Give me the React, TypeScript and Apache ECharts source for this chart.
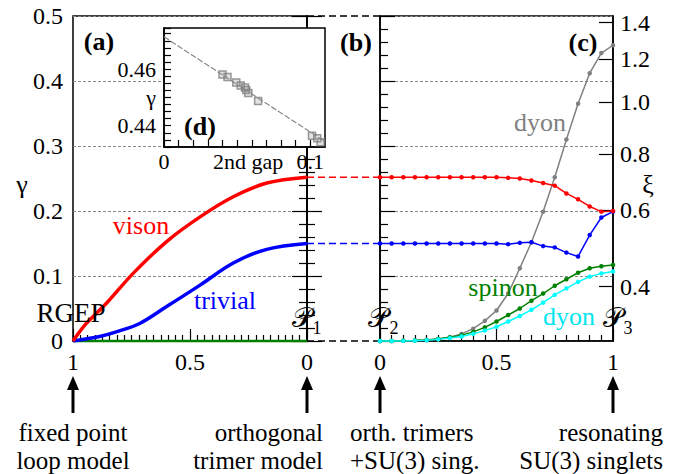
import React, { useEffect, useRef } from 'react';
import * as echarts from 'echarts';

// ---------- data ----------
// panel (a): parameter runs 1 -> 0 (left to right)
const visonT = [1, 0.943, 0.857, 0.743, 0.6, 0.457, 0.315, 0.172, 0];
const visonGamma = [0, 0.027, 0.058, 0.104, 0.153, 0.191, 0.222, 0.243, 0.252];
const trivialT = [1, 0.886, 0.815, 0.715, 0.6, 0.457, 0.315, 0.172, 0];
const trivialGamma = [0, 0.007, 0.014, 0.027, 0.053, 0.086, 0.12, 0.141, 0.15];
const spinonAT = [1, 0];
const spinonAGamma = [0, 0];

// panel (c): parameter 0 -> 1
const paramC = [0, 0.05, 0.1, 0.15, 0.2, 0.25, 0.3, 0.35, 0.4, 0.45, 0.5, 0.55, 0.6, 0.65, 0.7, 0.75, 0.8, 0.85, 0.9, 0.95, 1];
const visonC = [0.252, 0.252, 0.252, 0.252, 0.252, 0.252, 0.252, 0.252, 0.252, 0.252, 0.252, 0.251, 0.25, 0.247, 0.243, 0.239, 0.227, 0.218, 0.207, 0.199, 0.2];
const trivialC = [0.15, 0.15, 0.15, 0.15, 0.15, 0.15, 0.15, 0.15, 0.15, 0.15, 0.15, 0.149, 0.151, 0.152, 0.146, 0.144, 0.136, 0.13, 0.163, 0.19, 0.199];
const spinonC = [0, 0.0001, 0.0003, 0.0008, 0.0015, 0.003, 0.0056, 0.009, 0.014, 0.021, 0.03, 0.04, 0.05, 0.062, 0.073, 0.085, 0.095, 0.105, 0.112, 0.115, 0.117];
const dyonCyanC = [0, 0.0001, 0.0002, 0.0005, 0.0012, 0.0025, 0.0045, 0.007, 0.011, 0.016, 0.022, 0.03, 0.0385, 0.048, 0.059, 0.071, 0.081, 0.091, 0.099, 0.104, 0.107];
const dyonGrayC = [0, 0, 0.0003, 0.0008, 0.0015, 0.003, 0.006, 0.011, 0.019, 0.031, 0.047, 0.073, 0.112, 0.152, 0.199, 0.252, 0.31, 0.365, 0.412, 0.443, 0.455];

// right-hand xi axis: tick labels and their position on the gamma scale
const xiTickLabels = ['0.4', '0.6', '0.8', '1.0', '1.2', '1.4'];
const xiTickGamma = [0.0835, 0.2015, 0.2877, 0.368, 0.4338, 0.4897];

// inset (d)
const insetGap = [0.04, 0.0434, 0.0494, 0.0524, 0.0553, 0.0562, 0.0576, 0.0643, 0.1011, 0.1047, 0.107];
const insetGamma = [0.4581, 0.4572, 0.4553, 0.4542, 0.4535, 0.4526, 0.4516, 0.4487, 0.4365, 0.4356, 0.4342];
const fitGap = [0, 0.11];
const fitGamma = [0.4714, 0.4344];
const insetLabelValues = [0.44, 0.46];
const insetGapLabels = [0, 0.1];

const zip = (xs: number[], ys: number[]) => xs.map((x, i) => [x, ys[i]]);

const FONT = 'Liberation Serif';

export default function App() {
  const ref = useRef<HTMLDivElement>(null);
  useEffect(() => {
    if (!ref.current) return;
    const chart = echarts.init(ref.current, undefined, { renderer: 'svg' });

    const tickStyle = { color: '#000', width: 1.2 };
    const gridLine = { show: true, lineStyle: { color: '#888', width: 1, type: [3, 2] as any } };
    const labelBase = { color: '#000', fontFamily: FONT, fontSize: 24 };

    const dashed = (name: string, y: number, color: string) => ({
      name, type: 'line', xAxisIndex: 2, yAxisIndex: 4, clip: false,
      data: [[0, y], [1, y]], showSymbol: false, silent: true,
      lineStyle: { color, width: 1.5, type: [7, 4] as any },
    });

    const cSeries = (name: string, ys: number[], color: string) => ({
      name, type: 'line', xAxisIndex: 1, yAxisIndex: 2, clip: false,
      data: zip(paramC, ys), symbol: 'circle', symbolSize: 4.5, showSymbol: true,
      itemStyle: { color }, lineStyle: { color, width: 1.5 },
    });

    const txt = (text: string, x: number, y: number, size: number, color = '#000', opts: any = {}) => ({
      type: 'text', x, y, z: 100, silent: true,
      style: {
        text, fill: color,
        fontFamily: FONT, fontSize: size, fontWeight: opts.bold ? 'bold' : 'normal',
        align: opts.align || 'center', verticalAlign: opts.va || 'middle',
        textAlign: opts.align || 'center', textVerticalAlign: opts.va || 'middle',
        lineHeight: opts.lh,
      },
    });

    const arrow = (x: number) => [
      { type: 'line', z: 100, silent: true, shape: { x1: x, y1: 413, x2: x, y2: 386 }, style: { stroke: '#000', lineWidth: 3 } },
      { type: 'polygon', z: 100, silent: true, shape: { points: [[x - 6, 390], [x + 6, 390], [x, 376]] }, style: { fill: '#000' } },
    ];

    const option: any = {
      animation: false,
      backgroundColor: '#fff',
      textStyle: { fontFamily: FONT },
      grid: [
        { left: 73, top: 16, width: 234, height: 325, show: true, borderColor: '#000', borderWidth: 1.5, backgroundColor: 'transparent' },
        { left: 307, top: 16, width: 73, height: 325 },
        { left: 380, top: 16, width: 233, height: 325, show: true, borderColor: '#000', borderWidth: 1.5, backgroundColor: 'transparent' },
        { left: 164, top: 28, width: 161, height: 119, show: true, borderColor: '#000', borderWidth: 1.5, backgroundColor: '#fff', z: 10 },
      ],
      xAxis: [
        {
          gridIndex: 0, type: 'value', min: 0, max: 1, interval: 0.5, inverse: true,
          axisLine: { show: true, lineStyle: { color: '#000', width: 1.5 } },
          axisTick: { show: true, inside: true, length: 12, lineStyle: tickStyle },
          minorTick: { show: true, splitNumber: 16, length: 6, lineStyle: tickStyle },
          axisLabel: { ...labelBase, margin: 9 },
          splitLine: { show: false },
        },
        {
          gridIndex: 2, type: 'value', min: 0, max: 1, interval: 0.5,
          axisLine: { show: true, lineStyle: { color: '#000', width: 1.5 } },
          axisTick: { show: true, inside: true, length: 12, lineStyle: tickStyle },
          minorTick: { show: true, splitNumber: 10, length: 6, lineStyle: tickStyle },
          axisLabel: { ...labelBase, margin: 9 },
          splitLine: { show: false },
        },
        { gridIndex: 1, type: 'value', min: 0, max: 1, show: false },
        {
          gridIndex: 3, type: 'value', min: 0, max: 0.11, interval: 0.01, z: 11,
          axisLine: { show: true, lineStyle: { color: '#000', width: 1.5 } },
          axisTick: { show: true, inside: true, length: 7, lineStyle: tickStyle },
          axisLabel: {
            ...labelBase, fontSize: 22, margin: 3, showMaxLabel: false,
            formatter: (v: number) => {
              const hit = insetGapLabels.find((g) => Math.abs(g - v) < 1e-6);
              return hit === undefined ? '' : String(hit);
            },
          },
          splitLine: { show: false },
        },
      ],
      yAxis: [
        {
          gridIndex: 0, type: 'value', min: 0, max: 0.5, interval: 0.1, position: 'left',
          axisLine: { show: true, lineStyle: { color: '#000', width: 1.5 } },
          axisTick: { show: true, inside: true, length: 15, lineStyle: tickStyle },
          minorTick: { show: true, splitNumber: 5, length: 8, lineStyle: tickStyle },
          axisLabel: { ...labelBase, margin: 10 },
          splitLine: gridLine,
        },
        {
          gridIndex: 0, type: 'value', min: 0, max: 0.5, interval: 0.1, position: 'right',
          axisLine: { show: true, lineStyle: { color: '#000', width: 1.5 } },
          axisTick: { show: true, inside: true, length: 15, lineStyle: tickStyle },
          minorTick: { show: true, splitNumber: 5, length: 8, lineStyle: tickStyle },
          axisLabel: { show: false },
          splitLine: { show: false },
        },
        {
          gridIndex: 2, type: 'value', min: 0, max: 0.5, interval: 0.1, position: 'left',
          axisLine: { show: true, lineStyle: { color: '#000', width: 1.5 } },
          axisTick: { show: true, inside: true, length: 15, lineStyle: tickStyle },
          minorTick: { show: true, splitNumber: 5, length: 8, lineStyle: tickStyle },
          axisLabel: { show: false },
          splitLine: gridLine,
        },
        {
          gridIndex: 2, type: 'value', min: 0, max: 0.5, position: 'right',
          axisLine: { show: true, lineStyle: { color: '#000', width: 1.5 } },
          axisTick: { show: true, inside: true, length: 14, lineStyle: tickStyle, customValues: xiTickGamma },
          minorTick: { show: false },
          axisLabel: {
            ...labelBase, margin: 7, customValues: xiTickGamma,
            formatter: (v: number) => {
              const i = xiTickGamma.findIndex((g) => Math.abs(g - v) < 1e-6);
              return i < 0 ? '' : xiTickLabels[i];
            },
          },
          splitLine: { show: false },
        },
        { gridIndex: 1, type: 'value', min: 0, max: 0.5, show: false },
        {
          gridIndex: 3, type: 'value', min: 0.4325, max: 0.4745, interval: 0.0025, z: 11,
          axisLine: { show: true, lineStyle: { color: '#000', width: 1.5 } },
          axisTick: { show: true, inside: true, length: 7, lineStyle: tickStyle },
          axisLabel: {
            ...labelBase, fontSize: 22, margin: 8,
            formatter: (v: number) => {
              const hit = insetLabelValues.find((g) => Math.abs(g - v) < 1e-6);
              return hit === undefined ? '' : hit.toFixed(2);
            },
          },
          splitLine: { show: false },
        },
      ],
      series: [
        // panel (a)
        { name: 'spinon a', type: 'line', xAxisIndex: 0, yAxisIndex: 0, clip: false, data: zip(spinonAT, spinonAGamma), showSymbol: false, lineStyle: { color: '#008000', width: 2.5 } },
        { name: 'trivial a', type: 'line', xAxisIndex: 0, yAxisIndex: 0, data: zip(trivialT, trivialGamma), showSymbol: false, smooth: 0.35, lineStyle: { color: '#0000ff', width: 3.5 } },
        { name: 'vison a', type: 'line', xAxisIndex: 0, yAxisIndex: 0, data: zip(visonT, visonGamma), showSymbol: false, smooth: 0.35, lineStyle: { color: '#ff0000', width: 3.5 } },
        // panel (b) connectors
        dashed('b top', 0.5, '#000'),
        dashed('b bottom', 0, '#000'),
        dashed('b vison', visonGamma[visonGamma.length - 1], '#ff0000'),
        dashed('b trivial', trivialGamma[trivialGamma.length - 1], '#0000ff'),
        // panel (c)
        cSeries('dyon gray', dyonGrayC, '#808080'),
        cSeries('spinon', spinonC, '#008000'),
        cSeries('dyon cyan', dyonCyanC, '#00ffff'),
        cSeries('trivial', trivialC, '#0000ff'),
        cSeries('vison', visonC, '#ff0000'),
        // inset (d)
        { name: 'fit', type: 'line', xAxisIndex: 3, yAxisIndex: 5, z: 12, data: zip(fitGap, fitGamma), showSymbol: false, lineStyle: { color: '#888', width: 1.2, type: [6, 2] } },
        {
          name: 'points', type: 'scatter', xAxisIndex: 3, yAxisIndex: 5, z: 13, clip: false,
          data: zip(insetGap, insetGamma), symbol: 'rect', symbolSize: 7,
          itemStyle: { color: 'rgba(150,150,150,0.35)', borderColor: '#808080', borderWidth: 1.5 },
        },
      ],
      graphic: [
        txt('(a)', 99, 41, 26, '#000', { bold: true }),
        txt('(b)', 356, 42, 26, '#000', { bold: true }),
        txt('(c)', 583, 42, 26, '#000', { bold: true }),
        txt('(d)', 200, 126, 26, '#000', { bold: true }),
        txt('γ', 22, 184, 26),
        txt('ξ', 648, 184, 26),
        txt('γ', 151, 97, 22),
        txt('2nd gap', 248, 161, 22),
        txt('vison', 141, 225, 26, '#ff0000'),
        txt('trivial', 225, 300, 26, '#0000ff'),
        txt('dyon', 540, 122, 26, '#808080'),
        txt('spinon', 503, 287, 26, '#008000'),
        txt('dyon', 569, 316, 26, '#00e5ee'),
        txt('RGEP', 71, 313, 27),
        txt('𝒫', 302, 317, 28),
        txt('1', 317, 328, 18),
        txt('𝒫', 378, 317, 28),
        txt('2', 394, 328, 18),
        txt('𝒫', 613, 317, 28),
        txt('3', 628, 328, 18),
        ...arrow(73), ...arrow(307), ...arrow(380), ...arrow(613),
        txt('fixed point\nloop model', 73, 446, 25, '#000', { lh: 28 }),
        txt('orthogonal\ntrimer model', 323, 446, 25, '#000', { align: 'right', lh: 28 }),
        txt('orth. trimers\n+SU(3) sing.', 350, 446, 25, '#000', { align: 'left', lh: 28 }),
        txt('resonating\nSU(3) singlets', 663, 446, 25, '#000', { align: 'right', lh: 28 }),
      ],
    };
    chart.setOption(option);
    return () => chart.dispose();
  }, []);
  return <div ref={ref} style={{ position: 'absolute', left: 0, top: 0, width: 676, height: 474 }} />;
}
